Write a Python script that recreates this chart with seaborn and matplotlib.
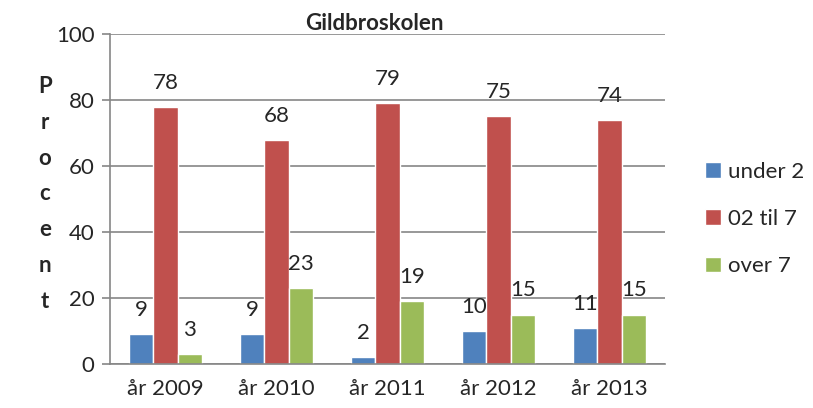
import pandas as pd
import seaborn as sns
import matplotlib.pyplot as plt

# Gildbroskolen - andel elever fordelt paa fravaer
years = ["år 2009", "år 2010", "år 2011", "år 2012", "år 2013"]
groups = ["under 2", "02 til 7", "over 7"]
under_2 = [9, 9, 2, 10, 11]
til_7 = [78, 68, 79, 75, 74]
over_7 = [3, 23, 19, 15, 15]

colors = ["#4F81BD", "#C0504D", "#9BBB59"]

df = pd.DataFrame({
    "year": years * 3,
    "group": [groups[0]] * 5 + [groups[1]] * 5 + [groups[2]] * 5,
    "value": under_2 + til_7 + over_7,
})

sns.set_style("white")
plt.rcParams["font.family"] = ["Lato", "DejaVu Sans"]

fig = plt.figure(figsize=(8.13, 4.08), dpi=100)
ax = fig.add_axes([110 / 813, 44 / 408, 555 / 813, 330 / 408])

sns.barplot(data=df, x="year", y="value", hue="group", order=years,
            hue_order=groups, palette=colors, width=0.66, gap=0,
            saturation=1, ax=ax, legend=True)

for cont in ax.containers:
    for bar in cont:
        h = bar.get_height()
        ax.annotate(f"{h:.0f}", (bar.get_x() + bar.get_width() / 2, h),
                    xytext=(0, 13), textcoords="offset points",
                    ha="center", va="baseline", fontsize=16)

ax.set_ylim(0, 100)
ax.set_xlim(-0.5, 4.5)
ax.set_yticks([0, 20, 40, 60, 80, 100])
ax.yaxis.grid(True, color="#868686", linewidth=1.2)
ax.set_axisbelow(True)
ax.set_xlabel("")
ax.set_ylabel("")

for s in ["top", "right"]:
    ax.spines[s].set_visible(False)
for s in ["left", "bottom"]:
    ax.spines[s].set_color("#868686")
    ax.spines[s].set_linewidth(1.2)

ax.set_xticks([-0.5, 0.5, 1.5, 2.5, 3.5, 4.5], minor=True)
ax.tick_params(axis="x", which="major", length=0, labelsize=16, pad=11)
ax.tick_params(axis="x", which="minor", length=6, color="#868686", width=1.2)
ax.tick_params(axis="y", length=6, color="#868686", width=1.2,
               labelsize=16, pad=5, left=True)

ax.legend(loc="center left", bbox_to_anchor=(705 / 813, 1 - 219 / 408),
          bbox_transform=fig.transFigure, frameon=False, fontsize=16,
          handlelength=0.7, handleheight=0.7, handletextpad=0.35,
          labelspacing=1.22, borderaxespad=0, borderpad=0)

fig.text(374 / 813, 1 - 24 / 408, "Gildbroskolen", ha="center", va="center",
         fontsize=16, fontweight="bold")
fig.text(45 / 813, 1 - 194 / 408, "\n".join("Procent"), ha="center",
         va="center", fontsize=16, fontweight="bold", linespacing=1.88)

fig.savefig("out.png", dpi=100)
